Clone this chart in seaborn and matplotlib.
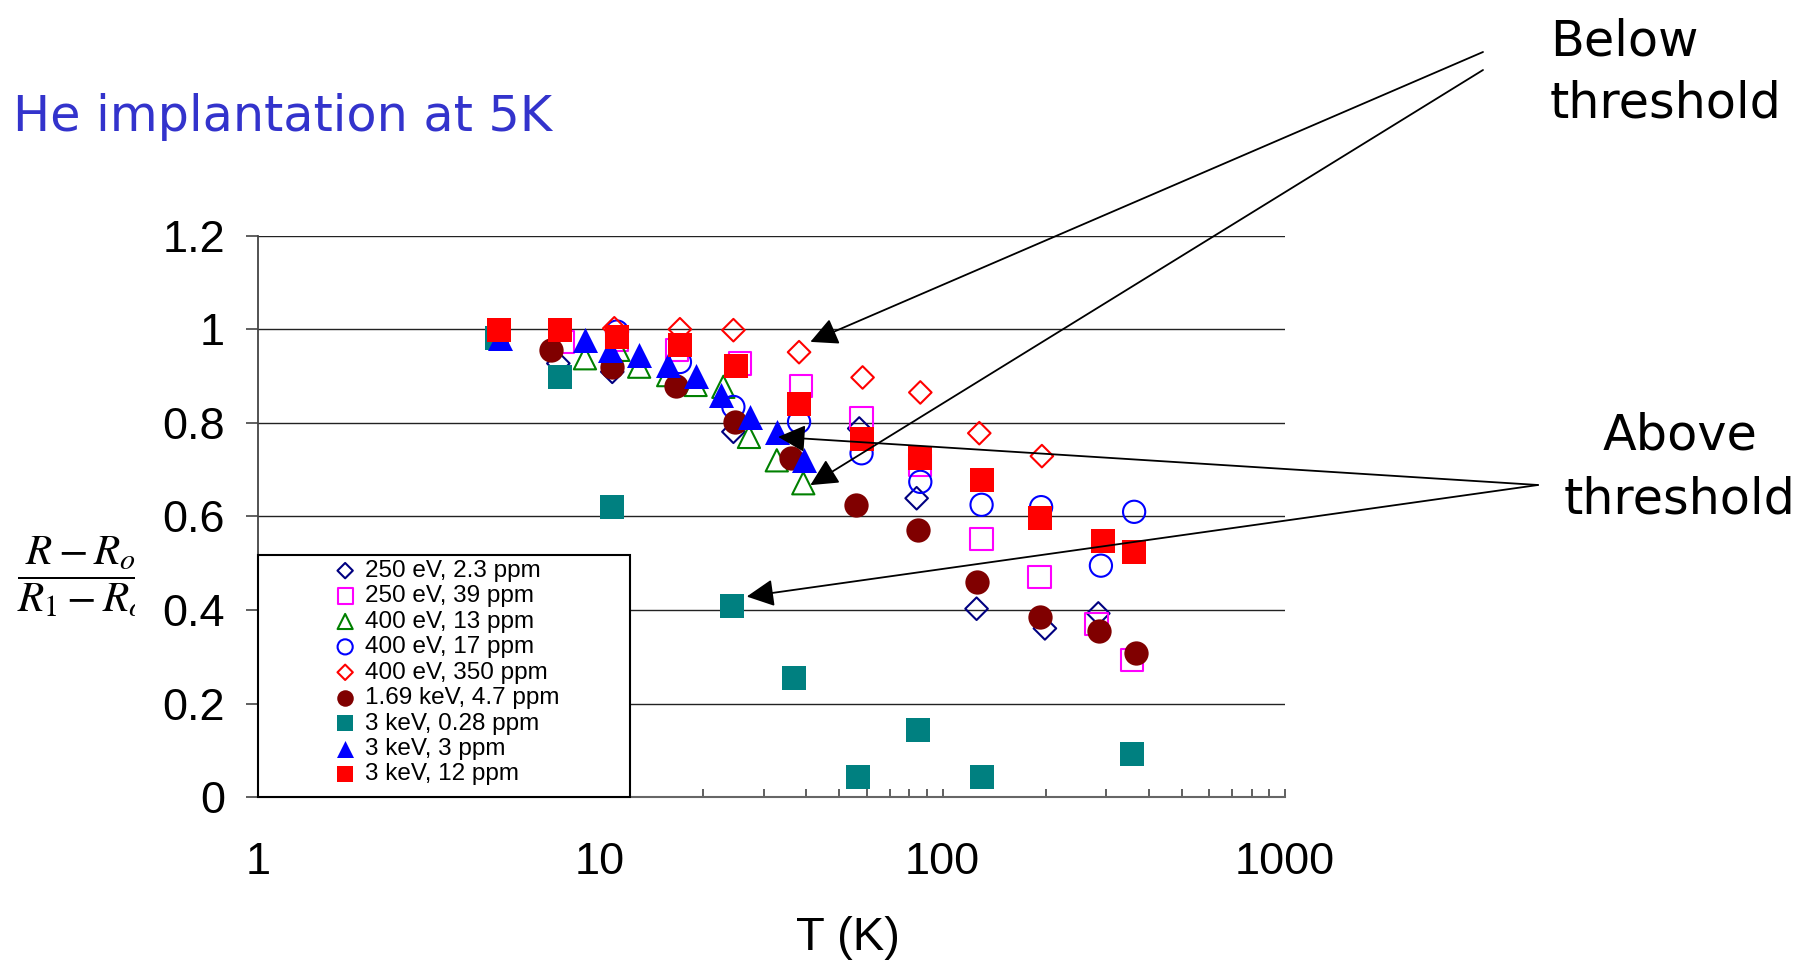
import matplotlib
matplotlib.use("Agg")
import matplotlib.pyplot as plt
import seaborn as sns
import numpy as np
from matplotlib.patches import Rectangle
from matplotlib.transforms import Bbox, TransformedBbox
from matplotlib.ticker import FixedLocator, FixedFormatter, LogLocator, NullFormatter

# ---------------- data ----------------
T_250_23 = [7.55, 10.85, 24.5, 57.1, 84.0, 125.7, 199, 285]
y_250_23 = [0.927, 0.909, 0.781, 0.788, 0.639, 0.403, 0.361, 0.393]

T_250_39 = [7.8, 11.2, 16.8, 25.6, 38.6, 58.0, 85.9, 130, 192, 281.6, 357.8]
y_250_39 = [0.973, 0.977, 0.956, 0.927, 0.879, 0.81, 0.71, 0.552, 0.47, 0.37, 0.293]

T_400_13 = [9.03, 11.3, 13.0, 15.8, 19.0, 22.9, 27.2, 32.8, 39.2]
y_400_13 = [0.938, 0.956, 0.92, 0.902, 0.881, 0.877, 0.77, 0.72, 0.671]

T_400_17 = [11.2, 17.1, 24.5, 38.1, 58.0, 86.1, 130, 194, 290, 362.6]
y_400_17 = [0.995, 0.93, 0.834, 0.802, 0.735, 0.674, 0.625, 0.62, 0.495, 0.61]

T_400_350 = [11.0, 17.1, 24.5, 38.1, 58.4, 86.1, 128, 195]
y_400_350 = [1.002, 1.0, 0.998, 0.951, 0.897, 0.865, 0.778, 0.729]

T_169_47 = [7.18, 10.84, 16.6, 24.8, 36.0, 55.7, 84.9, 126, 192, 286, 366]
y_169_47 = [0.956, 0.92, 0.879, 0.802, 0.724, 0.625, 0.571, 0.461, 0.385, 0.356, 0.308]

T_3k_028 = [4.99, 7.63, 10.85, 24.2, 36.9, 56.5, 85.0, 130, 357.8]
y_3k_028 = [0.981, 0.899, 0.62, 0.409, 0.254, 0.044, 0.144, 0.044, 0.092]

T_3k_3 = [5.1, 9.03, 10.7, 13.0, 15.8, 19.0, 22.6, 27.4, 32.8, 39.4]
y_3k_3 = [0.982, 0.978, 0.956, 0.945, 0.924, 0.9, 0.859, 0.813, 0.781, 0.721]

T_3k_12 = [5.08, 7.63, 11.2, 17.1, 24.9, 38.1, 58.3, 86.1, 130, 192, 294, 363]
y_3k_12 = [0.998, 0.998, 0.984, 0.966, 0.922, 0.84, 0.765, 0.724, 0.678, 0.596, 0.548, 0.524]

series_labels = ["250 eV, 2.3 ppm", "250 eV, 39 ppm", "400 eV, 13 ppm",
                 "400 eV, 17 ppm", "400 eV, 350 ppm", "1.69 keV, 4.7 ppm",
                 "3 keV, 0.28 ppm", "3 keV, 3 ppm", "3 keV, 12 ppm"]

x_ticks = [1, 10, 100, 1000]
x_tick_labels = ["1", "10", "100", "1000"]
y_ticks = [0, 0.2, 0.4, 0.6, 0.8, 1.0, 1.2]
y_tick_labels = ["0", "0.2", "0.4", "0.6", "0.8", "1", "1.2"]

title_text = "He implantation at 5K"
below_text = ["Below", "threshold"]
above_text = ["Above", "threshold"]
x_label = "T (K)"
y_label = r"$\dfrac{R-R_o}{R_1-R_o}$"

# annotation arrow targets (data coords)
below_tips = [(41.1, 0.973), (41.1, 0.667)]
above_tips = [(33.1, 0.770), (26.8, 0.429)]

# ---------------- styling ----------------
sns.set_style("white")
plt.rcParams["font.family"] = ["Liberation Sans", "DejaVu Sans"]
plt.rcParams["mathtext.fontset"] = "stix"
for k in ["text.color", "axes.labelcolor", "xtick.color", "ytick.color"]:
    plt.rcParams[k] = "black"

W, H = 1820, 975
fig = plt.figure(figsize=(W / 100, H / 100), dpi=100)
ax_l, ax_r, ax_b, ax_t = 257.7, 1285.0, 797.4, 235.6
ax = fig.add_axes([ax_l / W, 1 - ax_b / H, (ax_r - ax_l) / W, (ax_b - ax_t) / H])

styles = [
    dict(x=T_250_23, y=y_250_23, marker="D", s=11.5**2, fc="none", ec="#000080", lw=1.5),
    dict(x=T_250_39, y=y_250_39, marker="s", s=16**2, fc="none", ec="#FF00FF", lw=1.5),
    dict(x=T_400_13, y=y_400_13, marker="^", s=16**2, fc="none", ec="#008000", lw=1.5),
    dict(x=T_400_17, y=y_400_17, marker="o", s=16**2, fc="none", ec="#0000FF", lw=1.5),
    dict(x=T_400_350, y=y_400_350, marker="D", s=11.5**2, fc="none", ec="#FF0000", lw=1.5),
    dict(x=T_169_47, y=y_169_47, marker="o", s=17.5**2, fc="#800000", ec="#800000", lw=0),
    dict(x=T_3k_028, y=y_3k_028, marker="s", s=17.5**2, fc="#008080", ec="#008080", lw=0),
    dict(x=T_3k_3, y=y_3k_3, marker="^", s=18**2, fc="#0000FF", ec="#0000FF", lw=0),
    dict(x=T_3k_12, y=y_3k_12, marker="s", s=17.5**2, fc="#FF0000", ec="#FF0000", lw=0),
]

ax.set_xscale("log")
for st, lab in zip(styles, series_labels):
    sns.scatterplot(x=st["x"], y=st["y"], ax=ax, marker=st["marker"], s=st["s"],
                    facecolor=st["fc"], edgecolor=st["ec"], linewidth=st["lw"],
                    label=lab, legend=False, zorder=3)

ax.set_xlim(1, 1000)
ax.set_ylim(0, 1.2)
ax.xaxis.set_major_locator(FixedLocator(x_ticks))
ax.xaxis.set_major_formatter(FixedFormatter(x_tick_labels))
ax.xaxis.set_minor_locator(LogLocator(base=10, subs=np.arange(2, 10)))
ax.xaxis.set_minor_formatter(NullFormatter())
ax.yaxis.set_major_locator(FixedLocator(y_ticks))
ax.yaxis.set_major_formatter(FixedFormatter(y_tick_labels))

ax.tick_params(axis="x", which="both", direction="in", length=6, width=1.2,
               color="#444444", labelsize=32.5, pad=32, bottom=True, labelcolor="black")
ax.tick_params(axis="y", which="major", direction="out", length=8.5, width=1.2,
               color="#444444", labelsize=32.5, pad=15, left=True, labelcolor="black")

for s in ["top", "right"]:
    ax.spines[s].set_visible(False)
ax.spines["left"].set_color("#444444")
ax.spines["bottom"].set_color("#666666")
ax.spines["left"].set_linewidth(1.3)
ax.spines["bottom"].set_linewidth(1.5)

ax.yaxis.grid(True, color="#222222", lw=1.0)
ax.xaxis.grid(False)
ax.set_axisbelow(True)

ax.set_xlabel(x_label, fontsize=34, color="black")
ax.xaxis.set_label_coords((848 - ax_l) / (ax_r - ax_l), (ax_b - 916) / (ax_b - ax_t))
ax.set_ylabel("")

# legend frame + legend
ax.add_patch(Rectangle((0, 0), (630 - ax_l) / (ax_r - ax_l), (ax_b - 555) / (ax_b - ax_t),
                       transform=ax.transAxes, facecolor="white", edgecolor="black",
                       lw=1.5, zorder=4, clip_on=False))
leg = ax.legend(loc="upper left",
                bbox_to_anchor=((333 - ax_l) / (ax_r - ax_l), (ax_b - 560) / (ax_b - ax_t)),
                frameon=False, fontsize=17.5, borderpad=0, labelspacing=0.14,
                handlelength=1.0, handletextpad=0.3, markerscale=0.68,
                borderaxespad=0)
leg.set_zorder(5)
for t in leg.get_texts():
    t.set_color("black")

# title
fig.text(13 / W, 1 - 131 / H, title_text, fontsize=35.5, color="#3333CC",
         family="DejaVu Sans", va="baseline", ha="left")

# threshold texts
fig.text(1550 / W, 1 - 55 / H, below_text[0], fontsize=35.5, family="DejaVu Sans",
         va="baseline", ha="left")
fig.text(1550 / W, 1 - 118 / H, below_text[1], fontsize=35.5, family="DejaVu Sans",
         va="baseline", ha="left")
fig.text(1680 / W, 1 - 450 / H, above_text[0], fontsize=35.5, family="DejaVu Sans",
         va="baseline", ha="center")
fig.text(1680 / W, 1 - 514 / H, above_text[1], fontsize=35.5, family="DejaVu Sans",
         va="baseline", ha="center")

arrow_kw = dict(arrowstyle="-|>", color="black", lw=1.3, mutation_scale=42,
                shrinkA=0, shrinkB=0)
for tip, tail in zip(below_tips, [(1483, H - 52), (1483, H - 70)]):
    ax.annotate("", xy=tip, xycoords="data", xytext=tail, textcoords="figure pixels",
                arrowprops=arrow_kw, annotation_clip=False, zorder=6)
for tip in above_tips:
    ax.annotate("", xy=tip, xycoords="data", xytext=(1538, H - 485),
                textcoords="figure pixels", arrowprops=arrow_kw,
                annotation_clip=False, zorder=6)

# y label (fraction), clipped at the right like the reference
yl = fig.text(82 / W, 1 - 577 / H, y_label, fontsize=31, ha="center", va="center")
yl.set_clip_box(TransformedBbox(Bbox([[0, 0], [135 / W, 1]]), fig.transFigure))
yl.set_clip_on(True)

fig.savefig("out.png", dpi=100, facecolor="white")
